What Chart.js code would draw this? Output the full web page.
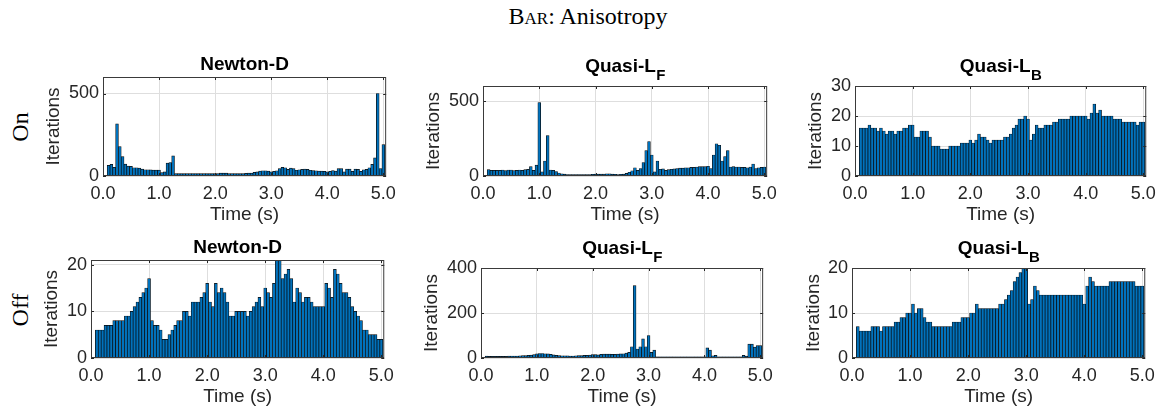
<!DOCTYPE html>
<html><head><meta charset="utf-8">
<script src="https://cdn.jsdelivr.net/npm/chart.js@4.4.0/dist/chart.umd.min.js"></script>
<style>
html,body{margin:0;padding:0;background:#fff;}
#wrap{position:relative;width:1166px;height:413px;overflow:hidden;background:#fff;}
canvas{position:absolute;}
.figtitle{position:absolute;left:388px;width:400px;top:4px;line-height:24px;text-align:center;font-family:"Liberation Serif",serif;font-size:24px;color:#000;white-space:nowrap;}
.rowlab{position:absolute;font-family:"Liberation Serif",serif;font-size:24px;line-height:24px;color:#000;transform:translate(-50%,-50%) rotate(-90deg);white-space:nowrap;}
</style></head><body><div id="wrap">
<div class="figtitle"><span style="font-variant:small-caps">Bar</span>: Anisotropy</div>
<div class="rowlab" style="left:20px;top:127px;">On</div>
<div class="rowlab" style="left:20px;top:310px;">Off</div>
<canvas id="c11"></canvas><canvas id="c12"></canvas><canvas id="c13"></canvas>
<canvas id="c21"></canvas><canvas id="c22"></canvas><canvas id="c23"></canvas>
</div>
<script>
// ---------- data ----------
const times = [
 0.10,0.15,0.20,0.25,0.30,0.35,0.40,0.45,0.50,0.55,0.60,0.65,0.70,0.75,0.80,0.85,0.90,0.95,1.00,
 1.05,1.10,1.15,1.20,1.25,1.30,1.35,1.40,1.45,1.50,1.55,1.60,1.65,1.70,1.75,1.80,1.85,1.90,1.95,2.00,
 2.05,2.10,2.15,2.20,2.25,2.30,2.35,2.40,2.45,2.50,2.55,2.60,2.65,2.70,2.75,2.80,2.85,2.90,2.95,3.00,
 3.05,3.10,3.15,3.20,3.25,3.30,3.35,3.40,3.45,3.50,3.55,3.60,3.65,3.70,3.75,3.80,3.85,3.90,3.95,4.00,
 4.05,4.10,4.15,4.20,4.25,4.30,4.35,4.40,4.45,4.50,4.55,4.60,4.65,4.70,4.75,4.80,4.85,4.90,4.95,5.00
];
const onNewtonD = [
 65,70,52,316,178,118,72,60,58,50,50,48,42,38,38,37,36,36,36,
 20,25,78,82,122,15,15,15,14,14,14,14,14,14,14,14,14,14,14,15,
 15,18,18,17,15,15,14,14,14,15,16,17,18,22,25,30,32,32,30,25,
 28,32,45,52,50,40,48,45,35,38,40,42,40,35,33,32,30,30,28,25,
 28,33,30,45,45,25,42,42,28,42,40,28,38,40,50,70,110,500,45,190
];
const onQuasiLF = [
 42,38,38,38,38,40,36,40,40,36,38,40,38,42,44,62,38,72,490,
 28,100,270,40,38,30,20,15,12,10,10,9,9,9,9,10,10,10,11,12,
 12,13,13,15,15,13,11,10,11,12,18,25,35,55,38,50,90,170,230,140,
 28,100,45,48,38,42,45,48,50,52,53,55,55,57,58,60,62,62,63,65,
 50,140,215,205,100,130,170,60,62,60,60,58,58,55,60,80,50,55,58,60
];
const onQuasiLB = [
 16,16,16,17,16,16,15,16,15,14,15,15,14,15,15,16,16,17,17,
 13,13,15,15,15,13,10,10,10,9,9,9,10,10,10,10,11,11,11,12,
 11,12,14,13,13,12,11,12,12,12,12,13,13,14,16,17,19,19,20,19,
 12,14,17,16,16,17,17,17,18,18,19,19,19,19,20,20,20,20,20,20,
 19,21,24,21,22,20,20,20,20,19,19,19,18,18,18,18,18,17,18,18
];
const offNewtonD = [
 6,6,6,7,7,7,8,8,8,8,9,9,10,11,12,13,14,15,17,
 8,7,7,6,4,4,5,6,7,8,8,10,10,9,12,12,12,13,14,16,
 12,11,16,14,15,14,12,9,9,10,10,10,10,9,10,11,12,13,11,15,
 14,13,16,21,21,17,18,19,17,12,15,14,12,13,13,12,11,11,11,11,
 16,15,13,19,18,16,14,14,13,11,10,9,8,6,6,5,5,5,4,4
];
const offQuasiLF = [
 8,7,7,7,7,7,7,7,8,9,9,9,10,11,11,12,13,15,18,
 20,20,19,18,16,14,12,11,10,10,10,9,9,10,11,11,12,12,13,15,
 15,14,16,17,17,17,16,16,17,18,19,22,25,50,322,40,50,85,50,100,
 25,35,5,5,5,5,5,5,5,5,5,5,5,5,5,5,5,5,5,5,
 45,35,10,12,5,5,5,5,5,5,5,5,5,12,8,62,62,48,55,55
];
const offQuasiLB = [
 7,6,6,6,6,7,7,7,6,7,7,7,7,8,8,9,9,10,10,
 12,10,11,11,9,8,8,7,7,7,7,7,7,7,8,8,8,9,9,9,
 10,10,12,11,11,11,11,11,11,11,12,12,13,14,15,17,18,19,20,20,
 12,13,16,15,14,14,14,14,14,14,14,14,14,14,14,14,14,14,14,12,
 16,18,17,16,16,16,16,16,17,17,17,17,17,17,17,17,17,16,16,16
];
const xTicks = [0, 1, 2, 3, 4, 5];
const yTicksNewtonOn = [0, 500];
const yTicksQuasiFOn = [0, 500];
const yTicksQuasiBOn = [0, 10, 20, 30];
const yTicksNewtonOff = [0, 10, 20];
const yTicksQuasiFOff = [0, 200, 400];
const yTicksQuasiBOff = [0, 10, 20];
const yMaxes = [600, 600, 30, 21, 400, 20];
const titles = ['Newton-D', 'Quasi-L', 'Quasi-L', 'Newton-D', 'Quasi-L', 'Quasi-L'];
const subs = ['', 'F', 'B', '', 'F', 'B'];
const xLabel = 'Time (s)';
const yLabel = 'Iterations';
const xMax = 5.05;

// ---------- layout ----------
const boxes = [
 {id:'c11', L:103, R:389, T:77,  B:176, yo:49},
 {id:'c12', L:483, R:770, T:86,  B:176, yo:49},
 {id:'c13', L:855, R:1149,T:86,  B:176, yo:39},
 {id:'c21', L:91,  R:387, T:260, B:358, yo:39},
 {id:'c22', L:481, R:766, T:268, B:358, yo:49},
 {id:'c23', L:852, R:1148,T:268, B:358, yo:38}
];
const series = [onNewtonD, onQuasiLF, onQuasiLB, offNewtonD, offQuasiLF, offQuasiLB];
const yTickSets = [yTicksNewtonOn, yTicksQuasiFOn, yTicksQuasiBOn, yTicksNewtonOff, yTicksQuasiFOff, yTicksQuasiBOff];

const PADL = 70, PADT = 40, PADR = 14, PADB = 55;
const FONT = '"Liberation Sans", Arial, sans-serif';

const decor = {
  id: 'decor',
  afterDraw(chart) {
    const p = chart.options.plugins.decor;
    const {ctx, chartArea: a} = chart;
    const xs = chart.scales.x, ys = chart.scales.y;
    ctx.save();
    ctx.strokeStyle = '#262626';
    ctx.lineWidth = 1;
    ctx.beginPath();
    xs.ticks.forEach(t => {
      const px = Math.round(xs.getPixelForValue(t.value)) + 0.5;
      ctx.moveTo(px, a.bottom); ctx.lineTo(px, a.bottom - 3);
      ctx.moveTo(px, a.top); ctx.lineTo(px, a.top + 3);
    });
    ys.ticks.forEach(t => {
      const py = Math.round(ys.getPixelForValue(t.value)) + 0.5;
      ctx.moveTo(a.left, py); ctx.lineTo(a.left + 3, py);
      ctx.moveTo(a.right, py); ctx.lineTo(a.right - 3, py);
    });
    ctx.stroke();
    ctx.strokeStyle = '#3a3a3a';
    ctx.strokeRect(a.left + 0.5, a.top + 0.5, a.right - a.left - 1, a.bottom - a.top - 1);
    const cx = (a.left + a.right) / 2;
    ctx.fillStyle = '#000';
    ctx.textBaseline = 'alphabetic';
    if (p.sub) {
      ctx.font = 'bold 19px ' + FONT;
      const w1 = ctx.measureText(p.title).width;
      ctx.font = 'bold 15px ' + FONT;
      const w2 = ctx.measureText(p.sub).width;
      const x0 = cx - (w1 + w2) / 2;
      ctx.textAlign = 'left';
      ctx.font = 'bold 19px ' + FONT;
      ctx.fillText(p.title, x0, a.top - 14);
      ctx.font = 'bold 15px ' + FONT;
      ctx.fillText(p.sub, x0 + w1 + 0.5, a.top - 6);
    } else {
      ctx.font = 'bold 19px ' + FONT;
      ctx.textAlign = 'center';
      ctx.fillText(p.title, cx, a.top - 7);
    }
    ctx.fillStyle = '#262626';
    ctx.font = '19px ' + FONT;
    ctx.textAlign = 'center';
    ctx.textBaseline = 'middle';
    ctx.fillText(xLabel, cx, a.bottom + 39);
    ctx.translate(a.left - p.yo, (a.top + a.bottom) / 2);
    ctx.rotate(-Math.PI / 2);
    ctx.fillText(yLabel, 0, 0);
    ctx.restore();
  }
};

boxes.forEach((b, i) => {
  const cv = document.getElementById(b.id);
  const w = (b.R - b.L) + PADL + PADR;
  const h = (b.B - b.T) + PADT + PADB;
  cv.width = w; cv.height = h;
  cv.style.width = w + 'px'; cv.style.height = h + 'px';
  cv.style.left = (b.L - PADL) + 'px';
  cv.style.top = (b.T - PADT) + 'px';
  const vals = series[i];
  const yT = yTickSets[i];
  new Chart(cv, {
    type: 'bar',
    data: {
      datasets: [{
        data: times.map((t, j) => ({x: t, y: vals[j]})),
        backgroundColor: '#0072BD',
        borderColor: '#0a0a0a',
        borderWidth: 0.7,
        borderSkipped: 'bottom',
        barPercentage: 1,
        categoryPercentage: 1
      }]
    },
    options: {
      responsive: false,
      animation: false,
      devicePixelRatio: 1,
      layout: {padding: {left: 0, top: PADT, right: PADR, bottom: 0}},
      plugins: {
        legend: {display: false},
        tooltip: {enabled: false},
        decor: {title: titles[i], sub: subs[i], yo: b.yo}
      },
      scales: {
        x: {
          type: 'linear',
          min: 0, max: xMax,
          offset: false,
          afterFit: s => { s.height = PADB; },
          afterBuildTicks: s => { s.ticks = xTicks.map(v => ({value: v})); },
          grid: {color: '#dedede', lineWidth: 1, drawTicks: false, offset: false},
          border: {display: false},
          ticks: {
            autoSkip: false, maxRotation: 0, padding: 7,
            color: '#262626', font: {family: FONT, size: 18},
            callback: v => Number(v).toFixed(1)
          }
        },
        y: {
          type: 'linear',
          min: 0, max: yMaxes[i],
          afterFit: s => { s.width = PADL; },
          afterBuildTicks: s => { s.ticks = yT.map(v => ({value: v})); },
          grid: {color: '#dedede', lineWidth: 1, drawTicks: false},
          border: {display: false},
          ticks: {
            autoSkip: false, padding: 4,
            color: '#262626', font: {family: FONT, size: 18},
            callback: v => String(v)
          }
        }
      }
    },
    plugins: [decor]
  });
});
</script>
</body></html>
